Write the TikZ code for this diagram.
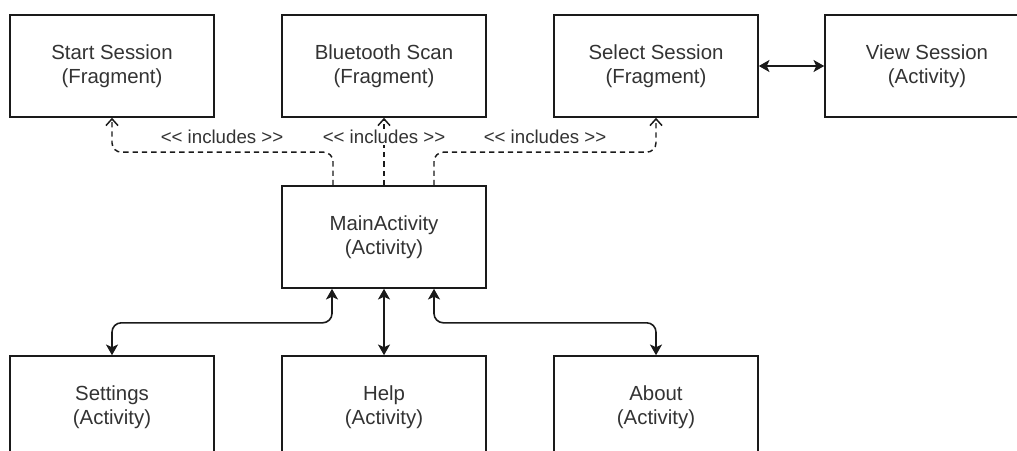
\documentclass[tikz,border=0pt]{standalone}
\usepackage{fontspec}
\setmainfont{Liberation Sans}
\usetikzlibrary{arrows.meta,calc}
\definecolor{txt}{HTML}{333333}
\definecolor{ln}{HTML}{1A1A1A}
\newcommand{\inclabel}{<\kern0pt< includes >\kern0pt>}
\begin{document}
\begin{tikzpicture}[x=0.75pt,y=-0.75pt,
  box/.style={draw=ln,line width=1.2pt,fill=white,minimum width=153pt,minimum height=76.5pt,
    inner sep=0pt,align=center,text=txt,font=\fontsize{15.3pt}{18.4pt}\selectfont},
  incl/.style={draw=ln,line width=1.1pt,dash pattern=on 4pt off 3pt,rounded corners=7pt,
    -{Straight Barb[length=5pt,width=9pt,line width=1.1pt]}},
  lbl/.style={fill=white,inner sep=1pt,text=txt,font=\fontsize{14pt}{16pt}\selectfont},
  link/.style={draw=ln,line width=1.2pt,rounded corners=7pt,
    {Stealth[length=8pt,width=9pt,inset=2pt]}-{Stealth[length=8pt,width=9pt,inset=2pt]}}]
\useasboundingbox (0,0) rectangle (1017,450);
\clip (0,0) rectangle (1017,450);
\fill[white] (0,0) rectangle (1017,450);
% top row
\node[box] (start)  at (112,66) {Start Session\\(Fragment)};
\node[box] (blue)   at (384,66) {Bluetooth Scan\\(Fragment)};
\node[box] (select) at (656,66) {Select Session\\(Fragment)};
\node[box] (view)   at (927,66) {View Session\\(Activity)};
% main
\node[box] (main) at (384,237) {MainActivity\\(Activity)};
% bottom row
\node[box] (settings) at (112,407) {Settings\\(Activity)};
\node[box] (help)     at (384,407) {Help\\(Activity)};
\node[box] (about)    at (656,407) {About\\(Activity)};
% includes
\draw[incl] ($(main.north)+(-51,0)$) -- ++(0,-33) -| (start.south);
\draw[incl] (main.north) -- (blue.south);
\draw[incl] ($(main.north)+(50,0)$) -- ++(0,-33) -| (select.south);
\node[lbl] (l1) at (222,137) {\inclabel};
\node[lbl] (l2) at (384,137) {\inclabel};
\node[lbl] (l3) at (545,137) {\inclabel};
% select <-> view
\draw[link] (select.east) -- (view.west);
% main <-> bottom
\draw[link] ($(main.south)+(-52,0)$) -- ++(0,34) -| (settings.north);
\draw[link] (main.south) -- (help.north);
\draw[link] ($(main.south)+(50,0)$) -- ++(0,34) -| (about.north);
\end{tikzpicture}
\end{document}
